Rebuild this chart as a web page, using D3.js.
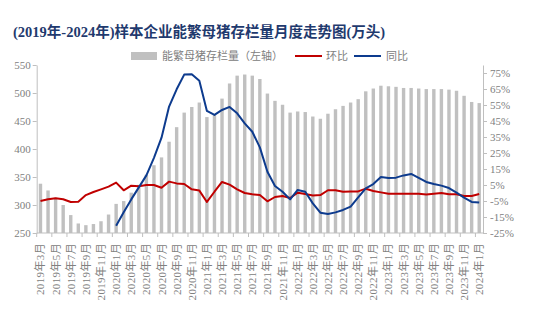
<!DOCTYPE html>
<html><head><meta charset="utf-8">
<script src="https://cdn.jsdelivr.net/npm/d3@7"></script>
<style>
body{margin:0;background:#fff;}
svg{display:block;}
</style></head>
<body>
<svg id="chart" width="534" height="328"></svg>
<script>
const categories = [
"2019年3月","2019年4月","2019年5月","2019年6月","2019年7月","2019年8月","2019年9月","2019年10月","2019年11月","2019年12月",
"2020年1月","2020年2月","2020年3月","2020年4月","2020年5月","2020年6月","2020年7月","2020年8月","2020年9月","2020年10月","2020年11月","2020年12月",
"2021年1月","2021年2月","2021年3月","2021年4月","2021年5月","2021年6月","2021年7月","2021年8月","2021年9月","2021年10月","2021年11月","2021年12月",
"2022年1月","2022年2月","2022年3月","2022年4月","2022年5月","2022年6月","2022年7月","2022年8月","2022年9月","2022年10月","2022年11月","2022年12月",
"2023年1月","2023年2月","2023年3月","2023年4月","2023年5月","2023年6月","2023年7月","2023年8月","2023年9月","2023年10月","2023年11月","2023年12月",
"2024年1月"];
// 能繁母猪存栏量 (万头, 左轴)
const inventory = [338,326,313,300,282,267,264,266,271,283,
302,307,322,336,354,371,385,413,439,465,475,483,
457,461,490,517,531,533,531,525,499,486,479,465,
467,466,458,454,463,471,477,483,489,503,508,513,
512,511,509,509,508,507,507,507,506,504,495,484,
482];
// 环比 (%)
const mom = [-5.0,-3.9,-3.3,-3.9,-5.6,-5.4,-1.3,0.6,2.3,4.0,
6.5,1.7,4.6,4.2,5.0,5.0,3.3,7.1,6.0,5.6,2.3,1.5,
-5.6,0.8,6.9,5.2,2.3,0.0,-0.8,-1.3,-5.2,-2.5,-1.9,-3.1,
0.2,-0.6,-1.5,-1.3,1.7,1.7,0.8,1.0,1.0,2.7,1.3,0.4,
-0.4,-0.4,-0.4,-0.4,-0.4,-1.0,-0.4,0.0,-0.8,-0.8,-1.9,-1.9,
-0.6];
// 同比 (%), starts 2020年1月
const yoy = [null,null,null,null,null,null,null,null,null,null,
-20.4,-12,-4,3.5,11,22,34.6,54,64.8,74,74.2,70.2,
51.3,48.8,51.9,53.8,49.8,43.5,38.3,28.5,13.3,4.4,0.8,-4.0,
1.9,0.8,-6.5,-12.3,-13.1,-12.1,-10.6,-8.5,-2.7,2.9,5.6,10.0,
9.4,9.6,11.0,11.9,9.4,6.9,5.6,4.6,3.1,0.2,-2.9,-5.6,
-6.0];
const leftTicks = [250,300,350,400,450,500,550];
const rightTicks = [-25,-15,-5,5,15,25,35,45,55,65,75];
const titleText = "(2019年-2024年)样本企业能繁母猪存栏量月度走势图(万头)";
const legendLabels = ["能繁母猪存栏量（左轴）","环比","同比"];

const svg = d3.select("#chart");
const L = 36.7, R = 483, T = 65, B = 233;
const serif = "'Liberation Serif','Noto Sans CJK SC',serif";
const axisColor = "#bfbfbf", textColor = "#808080";
const barColor = "#c0c0c0", redColor = "#c00000", blueColor = "#0d3b8e";

const x = d3.scaleBand().domain(categories).range([L, R]).paddingInner(0.55).paddingOuter(0.275);
const step = x.step();
const yL = d3.scaleLinear().domain([250, 550]).range([B, T]);
const yR = d3.scaleLinear().domain([-25, 80]).range([B, T]);

// Title
const title = svg.append("text").attr("x", 13).attr("y", 37)
  .attr("font-family", serif).attr("font-weight", "bold").attr("font-size", 14.5)
  .attr("fill", "#1f3a6e").text(titleText);
const w0 = title.node().getComputedTextLength();
if (w0 > 0 && Math.abs(w0 - 375) > 3) {
  title.attr("letter-spacing", ((375 - w0) / titleText.length).toFixed(2));
}

// Legend
const lg = svg.append("g");
lg.append("rect").attr("x", 131).attr("y", 52).attr("width", 26).attr("height", 8).attr("fill", barColor);
lg.append("text").attr("x", 162).attr("y", 60).attr("font-family", serif).attr("font-size", 11)
  .attr("fill", textColor).text(legendLabels[0]);
lg.append("line").attr("x1", 295).attr("x2", 322).attr("y1", 56).attr("y2", 56).attr("stroke", redColor).attr("stroke-width", 2);
lg.append("text").attr("x", 326).attr("y", 60).attr("font-family", serif).attr("font-size", 11).attr("fill", textColor).text(legendLabels[1]);
lg.append("line").attr("x1", 354).attr("x2", 381).attr("y1", 56).attr("y2", 56).attr("stroke", blueColor).attr("stroke-width", 2);
lg.append("text").attr("x", 386).attr("y", 60).attr("font-family", serif).attr("font-size", 11).attr("fill", textColor).text(legendLabels[2]);

// Bars
svg.append("g").selectAll("rect").data(categories).join("rect")
  .attr("x", (d) => x(d))
  .attr("width", x.bandwidth())
  .attr("y", (d, i) => yL(inventory[i]))
  .attr("height", (d, i) => B - yL(inventory[i]))
  .attr("fill", barColor);

// Axes
function styleAxis(g){
  g.select(".domain").attr("stroke", axisColor);
  g.selectAll(".tick line").attr("stroke", axisColor);
  g.selectAll(".tick text").attr("fill", textColor).attr("font-family", serif).attr("font-size", 11);
}
const gl = svg.append("g").attr("transform", `translate(${L},0)`)
  .call(d3.axisLeft(yL).tickValues(leftTicks).tickSize(4).tickSizeOuter(0).tickPadding(2));
styleAxis(gl);
const gr = svg.append("g").attr("transform", `translate(${R},0)`)
  .call(d3.axisRight(yR).tickValues(rightTicks).tickFormat(d => d + "%").tickSize(4).tickSizeOuter(0).tickPadding(3));
styleAxis(gr);

// X axis
const gx = svg.append("g").attr("transform", `translate(0,${B})`);
gx.append("line").attr("x1", L).attr("x2", R).attr("y1", 0).attr("y2", 0).attr("stroke", axisColor);
const tickIdx = d3.range(0, categories.length + 1, 2);
gx.selectAll("line.tk").data(tickIdx).join("line").attr("class", "tk")
  .attr("x1", i => i < categories.length ? x(categories[i]) - step * 0.275 : R)
  .attr("x2", i => i < categories.length ? x(categories[i]) - step * 0.275 : R)
  .attr("y1", 0).attr("y2", 4).attr("stroke", axisColor);
const labelCats = categories.filter((d, i) => i % 2 === 0);
const xl = gx.selectAll("text").data(labelCats).join("text")
  .attr("transform", d => `translate(${x(d) + x.bandwidth() / 2 + 4},10) rotate(-90)`)
  .attr("text-anchor", "end")
  .attr("font-family", serif).attr("font-size", 11).attr("fill", textColor)
  .text(d => d);
const wl = xl.node().getComputedTextLength();
if (wl > 0 && Math.abs(wl - 52) > 2) {
  xl.attr("letter-spacing", ((52 - wl) / labelCats[0].length).toFixed(2));
}

// Lines
const cx = (i) => x(categories[i]) + x.bandwidth() / 2;
const lineR = d3.line().x((d, i) => cx(i)).y(d => yR(d)).defined(d => d != null);
svg.append("path").datum(mom).attr("d", lineR).attr("fill", "none")
  .attr("stroke", redColor).attr("stroke-width", 2).attr("stroke-linejoin", "round");
svg.append("path").datum(yoy).attr("d", lineR).attr("fill", "none")
  .attr("stroke", blueColor).attr("stroke-width", 2).attr("stroke-linejoin", "round");
</script>
</body></html>
